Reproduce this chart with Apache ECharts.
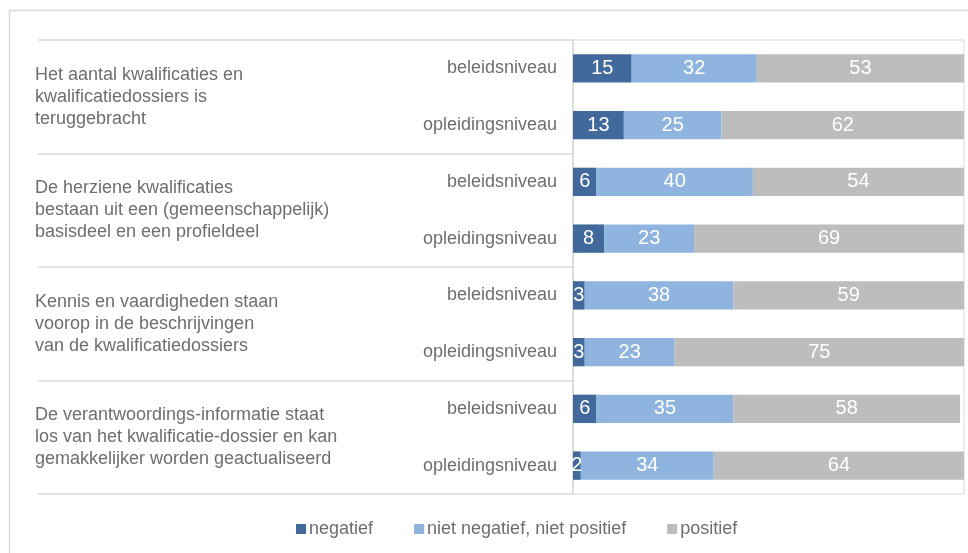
<!DOCTYPE html>
<html>
<head>
<meta charset="utf-8">
<script src="https://cdn.jsdelivr.net/npm/echarts@6/dist/echarts.min.js"></script>
<style>
  html, body { margin: 0; padding: 0; background: #fff; }
  #chart { width: 968px; height: 553px; }
</style>
</head>
<body>
<div id="chart"></div>
<script>
// niveau per balk, van boven naar beneden
var niveaus = ["beleidsniveau", "opleidingsniveau", "beleidsniveau", "opleidingsniveau",
  "beleidsniveau", "opleidingsniveau", "beleidsniveau", "opleidingsniveau"];
// stellingen (groepen van twee balken)
var stellingen = [
  "Het aantal kwalificaties en\nkwalificatiedossiers is\nteruggebracht",
  "De herziene kwalificaties\nbestaan uit een (gemeenschappelijk)\nbasisdeel en een profieldeel",
  "Kennis en vaardigheden staan\nvoorop in de beschrijvingen\nvan de kwalificatiedossiers",
  "De verantwoordings-informatie staat\nlos van het kwalificatie-dossier en kan\ngemakkelijker worden geactualiseerd"
];
var reeksNamen = ["negatief", "niet negatief, niet positief", "positief"];
var negatief = [15, 13, 6, 8, 3, 3, 6, 2];
var neutraal = [32, 25, 40, 23, 38, 23, 35, 34];
var positief = [53, 62, 54, 69, 59, 75, 58, 64];
var kleuren = ["#41699b", "#8fb4e0", "#bdbdbd"];

var tekstKleur = "#6e6e6e";
var lijnKleur = "#d9d9d9";
var font = "Liberation Sans, Arial, sans-serif";

function reeks(naam, data, kleur) {
  return {
    name: naam,
    type: "bar",
    stack: "totaal",
    yAxisIndex: 0,
    barWidth: "50%",
    itemStyle: { color: kleur },
    label: {
      show: true,
      position: "inside",
      color: "#fff",
      fontSize: 20,
      fontFamily: font,
      padding: [3, 0, 0, 0]
    },
    data: data
  };
}

var chart = echarts.init(document.getElementById("chart"));
chart.setOption({
  animation: false,
  textStyle: { fontFamily: font },
  graphic: [{
    type: "rect",
    shape: { x: 9.5, y: 10.5, width: 1000, height: 600 },
    style: { fill: "none", stroke: lijnKleur, lineWidth: 1.5 },
    silent: true
  }],
  legend: {
    left: 296,
    top: 520,
    padding: 0,
    icon: "rect",
    itemWidth: 10,
    itemHeight: 10,
    itemGap: 41,
    textStyle: { color: tekstKleur, fontSize: 18, fontFamily: font, padding: [0, 0, 0, -2] },
    data: reeksNamen
  },
  grid: {
    left: 573,
    right: 4,
    top: 40,
    bottom: 59,
    show: true,
    borderColor: lijnKleur,
    borderWidth: 1
  },
  xAxis: {
    type: "value",
    min: 0,
    max: 100,
    show: false
  },
  yAxis: [{
    type: "category",
    inverse: true,
    data: niveaus,
    axisLine: { show: true, lineStyle: { color: lijnKleur, width: 1.5 } },
    axisTick: { show: false },
    axisLabel: { color: tekstKleur, fontSize: 18, margin: 16, fontFamily: font, padding: [3, 0, 0, 0] },
    splitLine: { show: false }
  }, {
    type: "category",
    inverse: true,
    position: "left",
    data: stellingen,
    axisLine: { show: false },
    axisTick: { show: true, length: 535, lineStyle: { color: lijnKleur, width: 1.5 } },
    axisLabel: {
      color: tekstKleur,
      fontSize: 18,
      lineHeight: 22,
      align: "left",
      margin: 538,
      fontFamily: font,
      padding: [3, 0, 0, 0]
    },
    splitLine: { show: false }
  }],
  series: [
    reeks(reeksNamen[0], negatief, kleuren[0]),
    reeks(reeksNamen[1], neutraal, kleuren[1]),
    reeks(reeksNamen[2], positief, kleuren[2])
  ]
});
</script>
</body>
</html>
